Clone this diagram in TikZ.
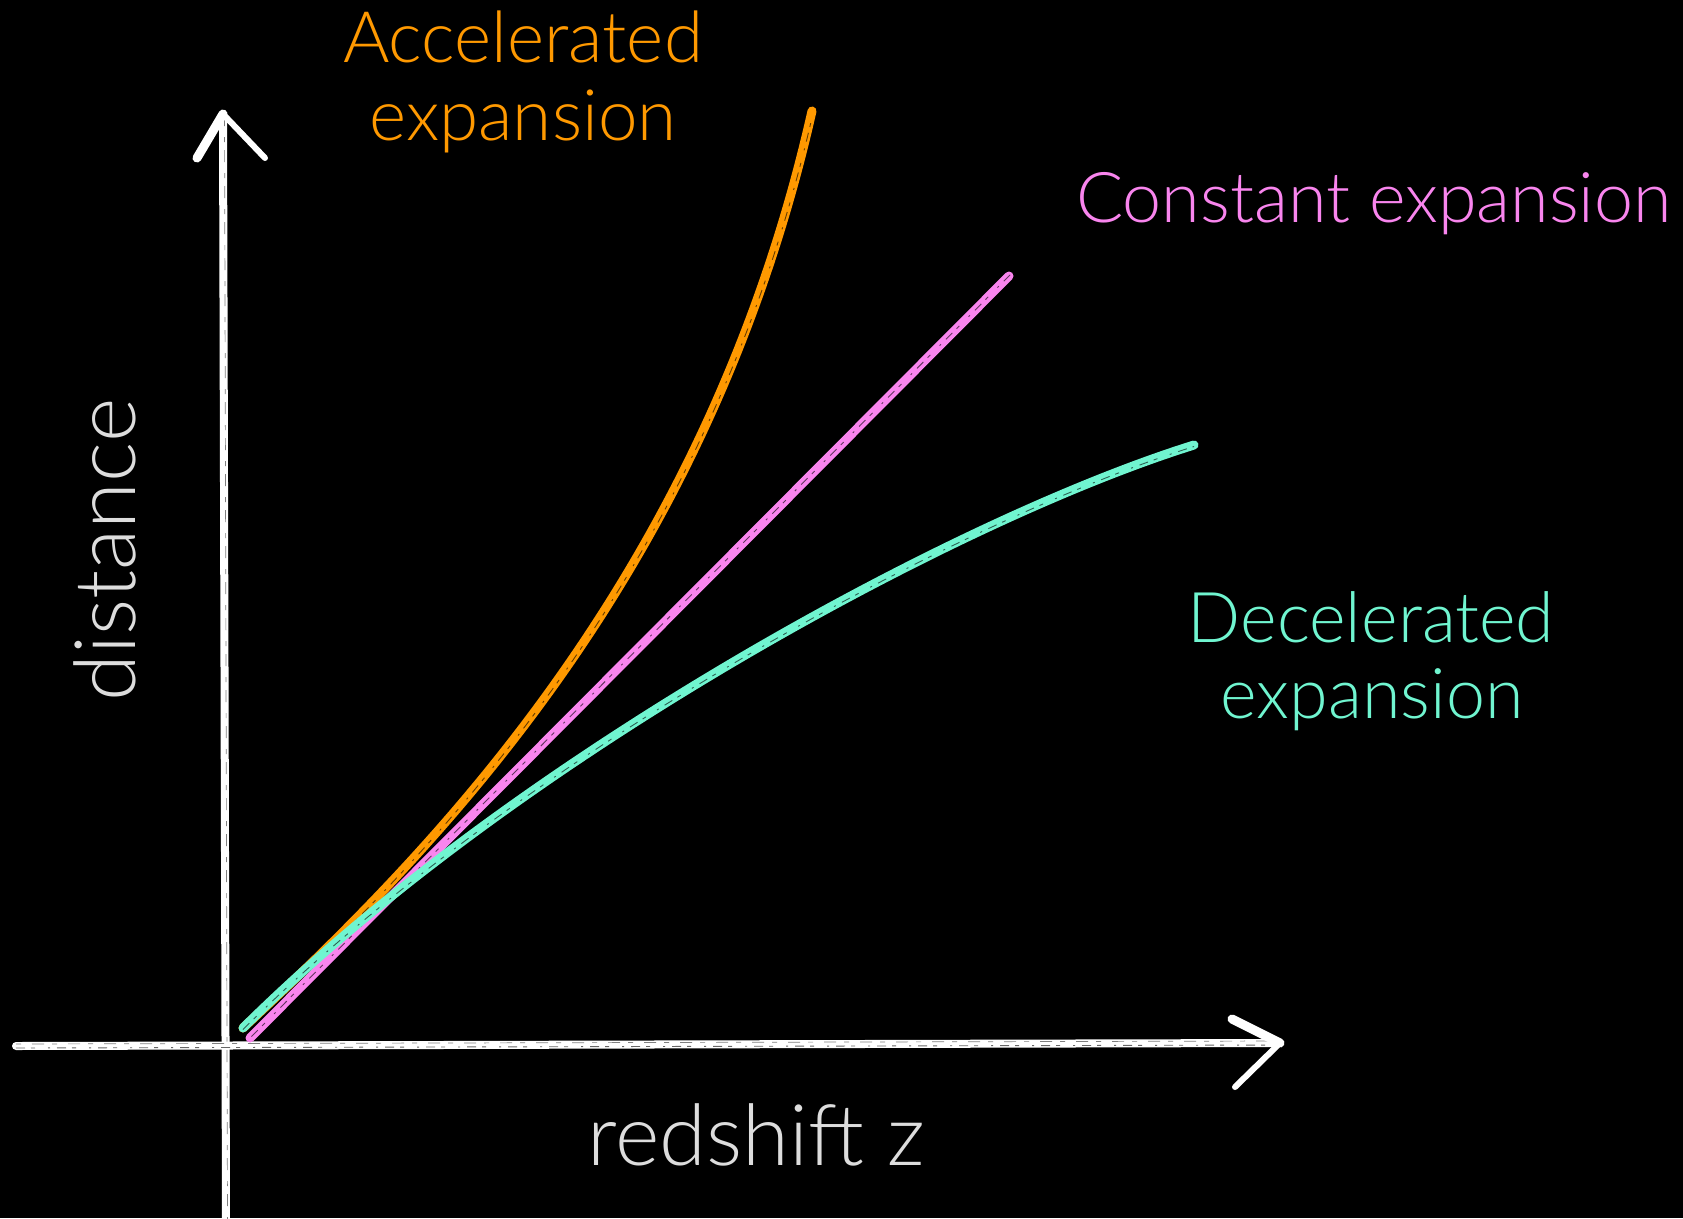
\documentclass[tikz,border=0pt]{standalone}
\usepackage{fontspec}
\setmainfont{Lato Light}
\definecolor{accel}{HTML}{FF9900}
\definecolor{const}{HTML}{F985EE}
\definecolor{decel}{HTML}{70F5D0}
\definecolor{chalkgray}{HTML}{DDDDDD}
\begin{document}
\begin{tikzpicture}[x=1pt,y=-1pt]
\tikzset{
  axisline/.style={draw=white, line width=8pt, line cap=round},
  headline/.style={draw=white, line width=9pt, line cap=round},
  curveline/.style={line width=9pt, line cap=round},
  streak/.style={draw=black, line width=0.9pt, opacity=0.6,
     dash pattern=on 9pt off 6pt on 4pt off 13pt on 2pt off 7pt},
  streakb/.style={draw=black, line width=0.7pt, opacity=0.5,
     dash pattern=on 5pt off 11pt on 12pt off 8pt},
  lbl/.style={inner sep=0pt, anchor=base, font=\fontsize{70}{78}\selectfont},
  biglbl/.style={inner sep=0pt, anchor=base, text=chalkgray, font=\fontsize{85}{90}\selectfont},
}
\fill[black] (0,0) rectangle (1683,1218);
\useasboundingbox (0,0) rectangle (1683,1218);

% axis points
\coordinate (ybot) at (226,1222);
\coordinate (ytip) at (223,114);
\coordinate (yl) at (197,158);
\coordinate (yr) at (265,158);
\coordinate (xleft) at (16,1046);
\coordinate (xtip) at (1280,1043);
\coordinate (xu) at (1232,1019);
\coordinate (xd) at (1235,1087);

% curve points
\coordinate (o0) at (243,1028);
\coordinate (o1) at (420,863);
\coordinate (o2) at (705,585);
\coordinate (o3) at (812,111);
\coordinate (p0) at (250,1038);
\coordinate (p1) at (1009,276);
\coordinate (t0) at (243,1028);
\coordinate (t1) at (513,760);
\coordinate (t2) at (954,520);
\coordinate (t3) at (1194,445);

% axes
\draw[axisline] (ybot) -- (ytip);
\draw[streakb, transform canvas={shift={(1.5pt,0pt)}}] (ybot) -- (ytip);
\draw[headline] (yl) -- (ytip);
\draw[headline, line width=6pt] (ytip) -- (yr);
\draw[axisline] (xleft) -- (xtip);
\draw[streak, transform canvas={shift={(0pt,-2pt)}}] (xleft) -- (xtip);
\draw[streakb, transform canvas={shift={(0pt,2pt)}}] (xleft) -- (xtip);
\draw[headline] (xu) -- (xtip);
\draw[headline, line width=6pt] (xtip) -- (xd);

% curves
\draw[curveline, draw=const] (p0) -- (p1);
\draw[streak, transform canvas={shift={(1.5pt,1.5pt)}}] (p0) -- (p1);
\draw[curveline, draw=accel] (o0) .. controls (o1) and (o2) .. (o3);
\draw[streak, transform canvas={shift={(1.5pt,0pt)}}] (o0) .. controls (o1) and (o2) .. (o3);
\draw[curveline, draw=decel] (t0) .. controls (t1) and (t2) .. (t3);
\draw[streak, transform canvas={shift={(0pt,-1.5pt)}}] (t0) .. controls (t1) and (t2) .. (t3);

% labels
\node[lbl, text=accel, font=\fontsize{71}{78}\selectfont] (accel1) at (523,62) {Accelerated};
\node[lbl, text=accel, font=\fontsize{71}{78}\selectfont] (accel2) at (523,140) {expansion};
\node[lbl, text=const, anchor=base west] (constlbl) at (1076,222) {Constant expansion};
\node[lbl, text=decel] (decel1) at (1371,642) {Decelerated};
\node[lbl, text=decel] (decel2) at (1372,718) {expansion};
\node[biglbl, rotate=90] (distlbl) at (135,550) {distance};
\node[biglbl] (zlbl) at (756,1165) {redshift z};
\end{tikzpicture}
\end{document}
